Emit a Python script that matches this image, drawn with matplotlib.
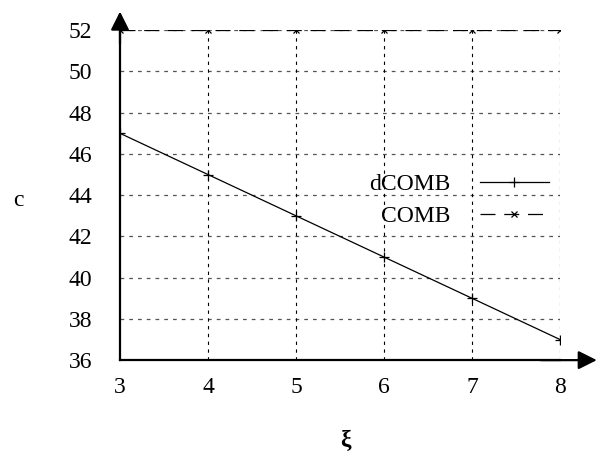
import matplotlib
matplotlib.use("Agg")
import matplotlib.pyplot as plt

# données
xi = [3, 4, 5, 6, 7, 8]
dcomb = [47, 45, 43, 41, 39, 37]
comb = [52, 52, 52, 52, 52, 52]
yticks = [36, 38, 40, 42, 44, 46, 48, 50, 52]

plt.rcParams["font.family"] = ["Liberation Serif", "DejaVu Serif"]
FS = 17

fig = plt.figure(figsize=(6.0, 4.72), dpi=100)
ax = fig.add_axes([0.2, 0.237, 0.7333, 0.699])

ax.plot(xi, dcomb, color="black", lw=0.9, marker="+", ms=7, mew=0.9, label="dCOMB")
ax.plot(xi, comb, color="black", lw=0.9, marker="x", ms=4, mew=0.9,
        dashes=(12, 7), label="COMB")

ax.set_xlim(3, 8)
ax.set_ylim(36, 52)
ax.set_xticks(xi)
ax.set_yticks(yticks)
ax.tick_params(length=0, labelsize=FS)
ax.tick_params(axis="x", pad=12)
ax.tick_params(axis="y", pad=20)

# grille
for y in yticks[1:]:
    ax.axhline(y, color="#555555", lw=0.9, dashes=(3, 4), zorder=0)
for x in xi[1:]:
    ax.axvline(x, color="black", lw=0.8, dashes=(3, 4), zorder=0)

for s in ["top", "right"]:
    ax.spines[s].set_visible(False)
for s in ["left", "bottom"]:
    ax.spines[s].set_linewidth(1.6)

# flèches des axes
arrow = dict(arrowstyle="-|>", color="black", lw=1.6, mutation_scale=28)
ax.annotate("", xy=(0, 1.065), xytext=(0, 0.95), xycoords="axes fraction",
            arrowprops=arrow, annotation_clip=False)
ax.annotate("", xy=(1.09, 0), xytext=(0.95, 0), xycoords="axes fraction",
            arrowprops=arrow, annotation_clip=False)

fig.text(345 / 600, 1 - 440 / 472, "ξ", fontsize=FS, fontweight="bold",
         ha="center", va="center")
fig.text(18 / 600, 1 - 200 / 472, "c", fontsize=FS, ha="center", va="center")

ax.legend(loc="center", bbox_to_anchor=(0.77, 0.485), frameon=False,
          markerfirst=False, fontsize=FS, handlelength=2.9,
          labelspacing=0.45, handletextpad=1.27)

fig.savefig("out.png", dpi=100)
